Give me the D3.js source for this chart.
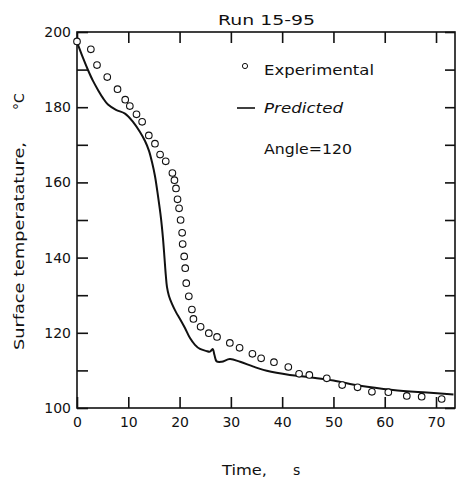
<!DOCTYPE html>
<html>
<head>
<meta charset="utf-8">
<script src="https://cdn.jsdelivr.net/npm/d3@7"></script>
<style>
  body { margin: 0; background: #fff; }
  svg { display: block; }
  text { font-family: "DejaVu Sans", sans-serif; fill: #111; }
</style>
</head>
<body>
<div id="chart"></div>
<script>
// experimental points (time s, temperature C)
var expTime = [0, 2.7, 3.9, 5.9, 7.9, 9.4, 10.3, 11.6, 12.7, 14.0, 15.2, 16.2, 17.3, 18.6, 19.0, 19.3,
  19.6, 19.9, 20.2, 20.5, 20.6, 20.9, 21.1, 21.3, 21.8, 22.4, 22.7, 24.1, 25.7, 27.3, 29.8, 31.7,
  34.2, 35.9, 38.4, 41.2, 43.3, 45.3, 48.7, 51.7, 54.7, 57.5, 60.7, 64.3, 67.2, 71.1];
var expTemp = [197.5, 195.4, 191.2, 188.0, 184.8, 182.0, 180.3, 178.1, 176.1, 172.5, 170.3, 167.4, 165.6, 162.5, 160.6, 158.4,
  155.5, 153.1, 150.0, 146.6, 143.6, 140.3, 137.2, 133.2, 129.7, 126.2, 123.7, 121.6, 119.9, 118.9, 117.3, 116.0,
  114.4, 113.2, 112.2, 110.9, 109.1, 108.8, 107.9, 106.1, 105.5, 104.3, 104.2, 103.2, 103.0, 102.4];

// predicted curve
var predTime = [0, 1.17, 2.14, 3.12, 4.09, 5.07, 6.04, 7.6, 9.36, 10.92, 12.28, 13.26, 14.04, 14.62, 15.2, 15.79,
  16.37, 16.76, 17.06, 17.31, 17.54, 17.93, 18.52, 19.3, 20.08, 21.05, 22.03, 23.0, 23.98, 25.15, 25.93, 26.45,
  26.8, 27.23, 28.2, 29.8, 31.8, 34.4, 37.0, 41.5, 45.4, 50.0, 55.2, 61.6, 68.2, 73.4];
var predTemp = [197.3, 193.1, 189.9, 187.0, 184.6, 182.4, 180.7, 179.3, 178.3, 176.1, 173.4, 171.0, 168.4, 165.4, 161.7, 156.4,
  150.5, 145.2, 139.9, 135.4, 132.2, 129.8, 127.7, 125.5, 123.7, 121.3, 118.6, 116.8, 115.7, 115.2, 115.0, 115.7,
  114.1, 112.4, 112.3, 113.0, 112.3, 111.0, 109.9, 108.8, 108.2, 107.3, 105.9, 104.8, 104.1, 103.6];

var xTicks = [0, 10, 20, 30, 40, 50, 60, 70];
var yTicks = [100, 110, 120, 130, 140, 150, 160, 170, 180, 190, 200];
var yLabels = [100, 120, 140, 160, 180, 200];

var W = 461, H = 479;
var mLeft = 77, mRight = 455, mTop = 32, mBottom = 408;

var svg = d3.select("#chart").append("svg")
  .attr("width", W)
  .attr("height", H);

var x = d3.scaleLinear().domain([0, 73.7]).range([mLeft, mRight]);
var y = d3.scaleLinear().domain([100, 200]).range([mBottom, mTop]);

// axes with inward ticks
var bottomAxis = d3.axisBottom(x).tickValues(xTicks).tickSizeInner(-11).tickSizeOuter(0).tickPadding(9);
var topAxis = d3.axisTop(x).tickValues(xTicks).tickSizeInner(-11).tickSizeOuter(0).tickFormat("");
var leftAxis = d3.axisLeft(y).tickValues(yTicks).tickSizeInner(-11).tickSizeOuter(0).tickPadding(6)
  .tickFormat(function(d) { return yLabels.indexOf(d) >= 0 ? d : ""; });
var rightAxis = d3.axisRight(y).tickValues(yTicks).tickSizeInner(-10).tickSizeOuter(0).tickFormat("");

function styleAxis(g) {
  g.select(".domain").remove();
  g.selectAll("line").attr("stroke", "#111").attr("stroke-width", 1.6);
  g.selectAll("text").style("font-size", "14px").style("fill", "#111")
    .style("font-family", "DejaVu Sans, sans-serif");
}

svg.append("g").attr("transform", "translate(0," + mBottom + ")").call(bottomAxis).call(styleAxis);
svg.append("g").attr("transform", "translate(0," + mTop + ")").call(topAxis).call(styleAxis);
svg.append("g").attr("transform", "translate(" + mLeft + ",0)").call(leftAxis).call(styleAxis);
svg.append("g").attr("transform", "translate(" + mRight + ",0)").call(rightAxis).call(styleAxis);

// frame
svg.append("rect")
  .attr("x", mLeft).attr("y", mTop)
  .attr("width", mRight - mLeft).attr("height", mBottom - mTop)
  .attr("fill", "none").attr("stroke", "#111").attr("stroke-width", 1.6);

// predicted line
var line = d3.line()
  .x(function(d, i) { return x(predTime[i]); })
  .y(function(d) { return y(d); })
  .curve(d3.curveCatmullRom);

svg.append("path")
  .datum(predTemp)
  .attr("d", line)
  .attr("fill", "none")
  .attr("stroke", "#111")
  .attr("stroke-width", 2);

// experimental circles
svg.selectAll("circle.exp")
  .data(expTemp)
  .enter()
  .append("circle")
    .attr("class", "exp")
    .attr("cx", function(d, i) { return x(expTime[i]); })
    .attr("cy", function(d) { return y(d); })
    .attr("r", 3.3)
    .attr("fill", "#fff")
    .attr("stroke", "#111")
    .attr("stroke-width", 1.1);

// title
svg.append("text")
  .attr("x", 218).attr("y", 25)
  .attr("textLength", 97).attr("lengthAdjust", "spacingAndGlyphs")
  .style("font-size", "14.5px")
  .text("Run 15-95");

// legend
svg.append("circle")
  .attr("cx", 245).attr("cy", 66).attr("r", 2.6)
  .attr("fill", "#fff").attr("stroke", "#111").attr("stroke-width", 1);
svg.append("text")
  .attr("x", 264).attr("y", 75)
  .attr("textLength", 110).attr("lengthAdjust", "spacingAndGlyphs")
  .style("font-size", "14px")
  .text("Experimental");
svg.append("line")
  .attr("x1", 237).attr("x2", 255).attr("y1", 108).attr("y2", 108)
  .attr("stroke", "#111").attr("stroke-width", 1.6);
svg.append("text")
  .attr("x", 264).attr("y", 113)
  .attr("textLength", 79).attr("lengthAdjust", "spacingAndGlyphs")
  .style("font-size", "14px").style("font-style", "italic")
  .text("Predicted");
svg.append("text")
  .attr("x", 264).attr("y", 154)
  .attr("textLength", 88).attr("lengthAdjust", "spacingAndGlyphs")
  .style("font-size", "14px")
  .text("Angle=120");

// axis titles
svg.append("text")
  .attr("x", 222).attr("y", 475)
  .attr("textLength", 45).attr("lengthAdjust", "spacingAndGlyphs")
  .style("font-size", "14px")
  .text("Time,");
svg.append("text")
  .attr("x", 293).attr("y", 475)
  .style("font-size", "14px")
  .text("s");

svg.append("text")
  .attr("transform", "translate(24,350) rotate(-90)")
  .attr("textLength", 208).attr("lengthAdjust", "spacingAndGlyphs")
  .style("font-size", "14px")
  .text("Surface temperatature,");
svg.append("text")
  .attr("transform", "translate(24,110) rotate(-90)")
  .style("font-size", "14px")
  .text("°C");
</script>
</body>
</html>
